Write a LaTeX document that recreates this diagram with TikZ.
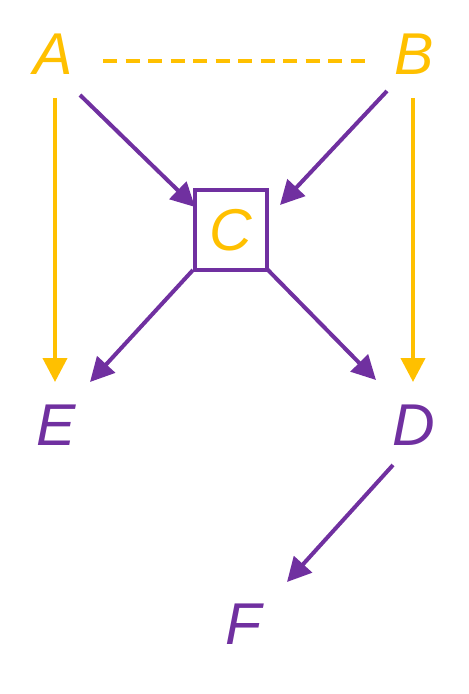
\documentclass[tikz,border=0pt]{standalone}
\usepackage{fontspec}
\setmainfont{Liberation Sans}
\usetikzlibrary{arrows.meta}
\definecolor{gold}{HTML}{FFC000}
\definecolor{purp}{HTML}{7030A0}
\tikzset{
  lbl/.style={inner sep=0pt, font=\fontsize{59bp}{60bp}\selectfont\itshape},
  goldarrow/.style={draw=gold, line width=4bp, -{Triangle[length=24bp,width=24bp]}},
  purparrow/.style={draw=purp, line width=4bp, -{Triangle[length=24bp,width=24bp]}},
  golddash/.style={draw=gold, line width=3.2bp, dash pattern=on 14bp off 8.5bp},
}
\begin{document}
\begin{tikzpicture}[x=1bp,y=-1bp]
\useasboundingbox (0,0) rectangle (469,694);
\node[lbl, text=gold] (A) at (53,54) {A};
\node[lbl, text=gold] (B) at (414,54) {B};
\node[lbl, text=purp] (E) at (56,425) {E};
\node[lbl, text=purp] (D) at (414,425) {D};
\node[lbl, text=purp] (F) at (244,624) {F};
\node[lbl, text=gold, draw=purp, line width=4.2bp, minimum width=72bp, minimum height=80bp] (C) at (231,230) {C};
\draw[golddash] ([shift={(50,7)}]A.center) -- ([shift={(-49,7)}]B.center);
\draw[goldarrow] ([shift={(2,44)}]A.center) -- ([shift={(-1,-43)}]E.center);
\draw[goldarrow] ([shift={(-1,44)}]B.center) -- ([shift={(-1,-43)}]D.center);
\draw[purparrow] ([shift={(27,41)}]A.center) -- ([shift={(-36,-23)}]C.center);
\draw[purparrow] ([shift={(-27,37)}]B.center) -- ([shift={(49,-25)}]C.center);
\draw[purparrow] ([shift={(-38,40)}]C.center) -- ([shift={(34,-43)}]E.center);
\draw[purparrow] ([shift={(35,38)}]C.center) -- ([shift={(-38,-45)}]D.center);
\draw[purparrow] ([shift={(-21,40)}]D.center) -- ([shift={(43,-42)}]F.center);
\end{tikzpicture}
\end{document}
